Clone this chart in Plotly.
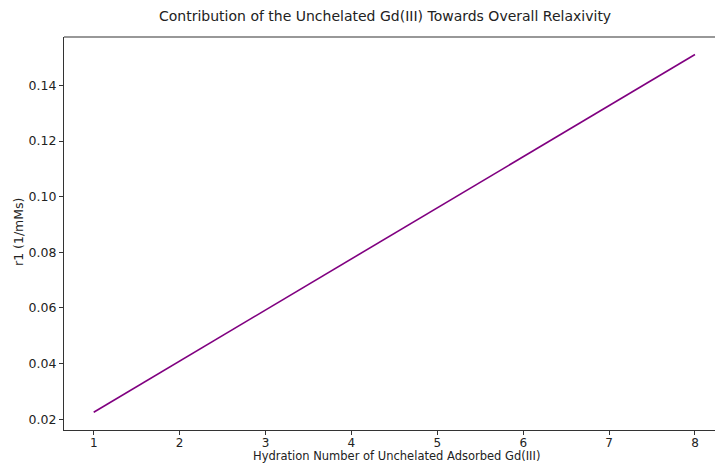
import plotly.graph_objects as go

# Hydration number of unchelated adsorbed Gd(III) and corresponding relaxivity
hydration_number = [1, 2, 3, 4, 5, 6, 7, 8]
r1_values = [0.0225, 0.0409, 0.0593, 0.0777, 0.0960, 0.1144, 0.1327, 0.1511]
x_ticks = [1, 2, 3, 4, 5, 6, 7, 8]
y_ticks = [0.02, 0.04, 0.06, 0.08, 0.10, 0.12, 0.14]
y_tick_text = ["0.02", "0.04", "0.06", "0.08", "0.10", "0.12", "0.14"]

font_family = "DejaVu Sans, sans-serif"
axis_color = "#333333"

fig = go.Figure()
fig.add_trace(go.Scatter(
    x=hydration_number,
    y=r1_values,
    mode="lines",
    line=dict(color="#800080", width=1.6),
    showlegend=False,
))

fig.update_layout(
    width=715,
    height=465,
    margin=dict(l=64, r=0, t=37, b=35),
    paper_bgcolor="white",
    plot_bgcolor="white",
    font=dict(family=font_family, size=12.5, color="#222222"),
    xaxis=dict(
        range=[0.654, 8.233],
        tickvals=x_ticks,
        ticks="outside",
        ticklen=3.5,
        tickcolor=axis_color,
        tickfont=dict(size=12),
        ticklabelstandoff=-2,
        showline=True,
        linecolor=axis_color,
        linewidth=1.2,
        showgrid=False,
        zeroline=False,
    ),
    yaxis=dict(
        range=[0.0161, 0.1574],
        tickvals=y_ticks,
        ticktext=y_tick_text,
        ticks="outside",
        ticklen=4,
        tickcolor=axis_color,
        showline=True,
        linecolor=axis_color,
        linewidth=1.2,
        showgrid=False,
        zeroline=False,
    ),
    shapes=[dict(
        type="line", xref="paper", yref="paper",
        x0=0, x1=1, y0=1, y1=1,
        line=dict(color=axis_color, width=1.2),
    )],
    annotations=[
        dict(
            text="Hydration Number of Unchelated Adsorbed Gd(III)",
            xref="paper", yref="paper",
            x=(396 - 64) / 651, y=-(465 - 430) / 393,
            xanchor="center", yanchor="bottom",
            showarrow=False,
            font=dict(family=font_family, size=11.5, color="#222222"),
        ),
        dict(
            text="Contribution of the Unchelated Gd(III) Towards Overall Relaxivity",
            xref="paper", yref="paper",
            x=(385 - 64) / 651, y=1 + 21 / 393,
            xanchor="center", yanchor="middle",
            showarrow=False,
            font=dict(family=font_family, size=14, color="#222222"),
        ),
        dict(
            text="r1 (1/mMs)",
            xref="paper", yref="paper",
            x=-(64 - 18) / 651, y=(430 - 232) / 393,
            xanchor="center", yanchor="middle",
            textangle=-90,
            showarrow=False,
            font=dict(family=font_family, size=12.5, color="#222222"),
        ),
    ],
)

fig.write_html("out.html")
